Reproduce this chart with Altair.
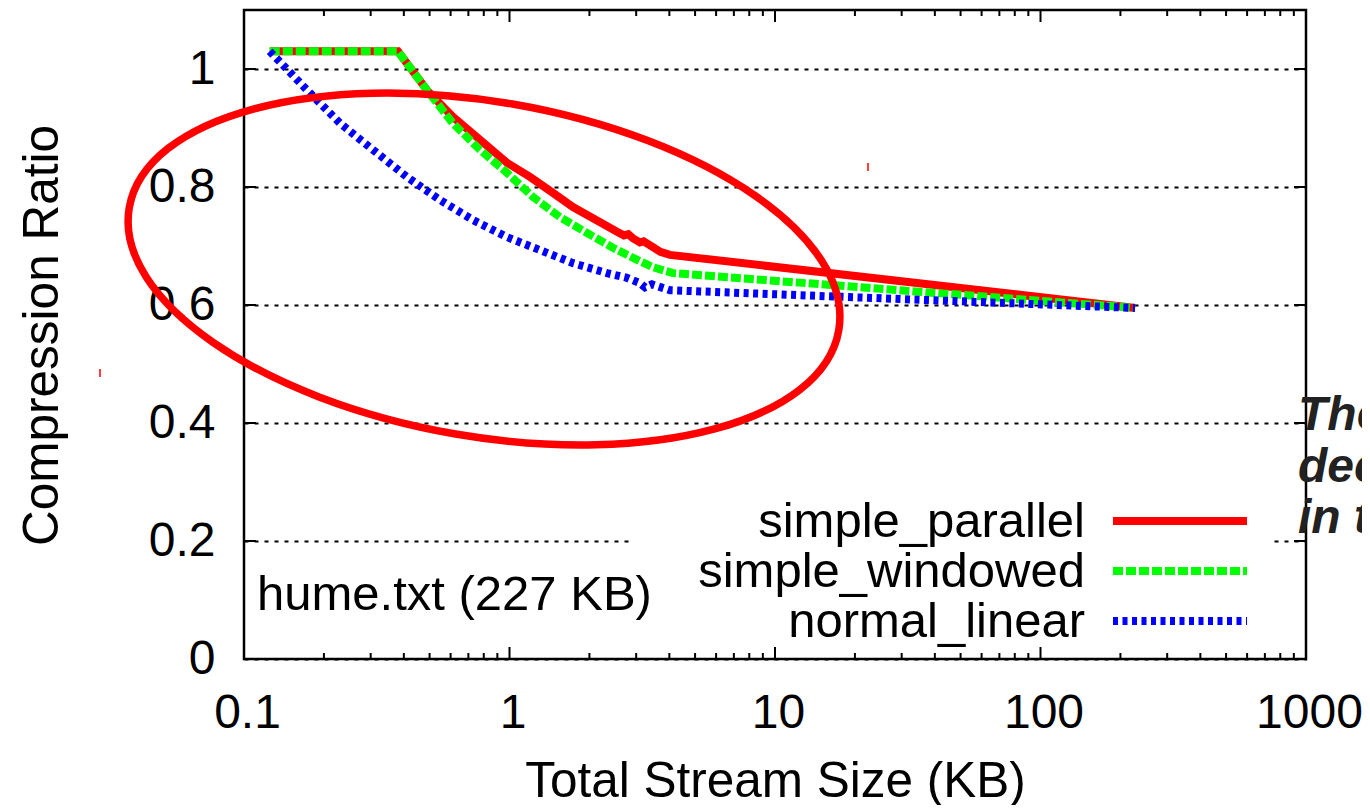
import altair as alt
import pandas as pd

# ---------------- data ----------------
SP_X = [0.125, 0.38, 0.489, 0.612, 0.774, 0.979, 1.194, 1.458, 1.734, 2.063, 2.541,
        2.70, 2.80, 2.918, 3.10, 3.20, 3.47, 3.70, 4.02, 227]
SP_Y = [1.03, 1.03, 0.964, 0.919, 0.880, 0.841, 0.817, 0.790, 0.766, 0.747, 0.724,
        0.718, 0.720, 0.713, 0.706, 0.708, 0.698, 0.690, 0.685, 0.595]

SW_X = [0.125, 0.38, 0.489, 0.612, 0.774, 0.979, 1.226, 1.549, 1.959, 2.453, 2.918,
        3.47, 4.13, 227]
SW_Y = [1.03, 1.03, 0.964, 0.908, 0.863, 0.824, 0.783, 0.749, 0.722, 0.697, 0.680,
        0.664, 0.654, 0.595]

NL_X = [0.125, 0.173, 0.230, 0.306, 0.411, 0.547, 0.729, 0.979, 1.303, 1.734, 2.33,
        2.77, 3.10, 3.24, 3.44, 4.02, 227]
NL_Y = [1.03, 0.964, 0.908, 0.863, 0.817, 0.778, 0.744, 0.715, 0.693, 0.671, 0.654,
        0.646, 0.637, 0.630, 0.635, 0.625, 0.595]

SERIES = ["simple_parallel", "simple_windowed", "normal_linear"]
X_TICKS = [0.1, 1, 10, 100, 1000]
X_MINOR = [m * d for d in [0.1, 1, 10, 100] for m in range(2, 10)]
Y_TICKS = [0, 0.2, 0.4, 0.6, 0.8, 1.0]
FILE_LABEL = "hume.txt (227 KB)"
SIDE_TEXT = ["The", "dec", "in t"]
X_TITLE = "Total Stream Size (KB)"
Y_TITLE = "Compression Ratio"

# ---------------- styling ----------------
W, H = 1062, 649
FONT = "Liberation Sans"
RED, GREEN, BLUE = "#ff0000", "#00ff00", "#0000ff"
LW = 8
GREEN_DASH = [10, 3]
BLUE_DASH = [5, 4.5]

xscale = alt.Scale(type="log", domain=[0.1, 1000], nice=False)
yscale = alt.Scale(domain=[0, 1.1], nice=False, zero=False)

xaxis = alt.Axis(values=X_TICKS, format="~g", grid=False, ticks=False, tickSize=0,
                 domain=False, labelFontSize=48, labelFont=FONT, labelColor="black",
                 labelPadding=68, labelBaseline="alphabetic", labelOffset=3,
                 labelFlush=False, labelOverlap=False,
                 title=X_TITLE, titleFont=FONT, titleFontSize=49.5,
                 titleFontWeight="normal", titleColor="black", titleX=531, titleY=137,
                 titleBaseline="alphabetic", titleAlign="center")
yaxis = alt.Axis(values=Y_TICKS, format="~g", grid=True, gridColor="black",
                 gridDash=[4, 6], gridWidth=2, ticks=False, tickSize=0, domain=False,
                 labelFontSize=48, labelFont=FONT, labelColor="black", labelPadding=29,
                 labelBaseline="middle", labelFlush=False, labelOverlap=False,
                 title=Y_TITLE, titleFont=FONT, titleFontSize=49.5,
                 titleFontWeight="normal", titleColor="black", titleAngle=270,
                 titleX=-187, titleY=325, titleBaseline="alphabetic",
                 titleAlign="center")

X = lambda: alt.X("x:Q", scale=xscale, axis=xaxis)
Y = lambda: alt.Y("y:Q", scale=yscale, axis=yaxis)


def series_line(xs, ys, color, dash=None):
    df = pd.DataFrame({"x": xs, "y": ys})
    kw = dict(color=color, strokeWidth=LW, strokeCap="butt")
    if dash:
        kw["strokeDash"] = dash
    return alt.Chart(df).mark_line(**kw).encode(x=X(), y=Y())


one = pd.DataFrame({"a": [0]})

layers = [
    series_line(SP_X, SP_Y, RED),
    series_line(SW_X, SW_Y, GREEN, GREEN_DASH),
    series_line(NL_X, NL_Y, BLUE, BLUE_DASH),
]

# white key box that hides part of the 0.2 grid line
layers.append(alt.Chart(one).mark_rect(color="white").encode(
    x=alt.value(388), x2=alt.value(1030), y=alt.value(480), y2=alt.value(638)))

# inward ticks (gnuplot style)
xt = pd.DataFrame({"x": X_TICKS})
xm = pd.DataFrame({"x": X_MINOR})
yt = pd.DataFrame({"y": Y_TICKS})
tick_kw = dict(color="black", strokeWidth=2)
layers += [
    alt.Chart(xt).mark_rule(**tick_kw).encode(x=X(), y=alt.value(H), y2=alt.value(H - 12)),
    alt.Chart(xt).mark_rule(**tick_kw).encode(x=X(), y=alt.value(0), y2=alt.value(12)),
    alt.Chart(xm).mark_rule(**tick_kw).encode(x=X(), y=alt.value(H), y2=alt.value(H - 6)),
    alt.Chart(xm).mark_rule(**tick_kw).encode(x=X(), y=alt.value(0), y2=alt.value(6)),
    alt.Chart(yt).mark_rule(**tick_kw).encode(y=Y(), x=alt.value(0), x2=alt.value(12)),
    alt.Chart(yt).mark_rule(**tick_kw).encode(y=Y(), x=alt.value(W - 12), x2=alt.value(W)),
]

# red hand-drawn ellipse annotation (custom symbol path, rotated)
r, k = 0.465, 0.5523
f = lambda v: f"{v:.4f}"
ell_path = (f"M1,0C1,{f(k*r)} {f(k)},{f(r)} 0,{f(r)}"
            f"C{f(-k)},{f(r)} -1,{f(k*r)} -1,0"
            f"C-1,{f(-k*r)} {f(-k)},{f(-r)} 0,{f(-r)}"
            f"C{f(k)},{f(-r)} 1,{f(-k*r)} 1,0Z")
layers.append(alt.Chart(one).mark_point(
    shape=ell_path, size=720.0 ** 2, filled=False, color=RED, strokeWidth=7.5,
    opacity=1, angle=9.8).encode(x=alt.value(240), y=alt.value(259)))

# key (legend)
key_styles = [(RED, None), (GREEN, GREEN_DASH), (BLUE, BLUE_DASH)]
for i, (name, (col, dash)) in enumerate(zip(SERIES, key_styles)):
    layers.append(alt.Chart(one).mark_text(
        align="right", baseline="alphabetic", fontSize=49, font=FONT, color="black"
    ).encode(x=alt.value(841), y=alt.value(527 + 50 * i), text=alt.value(name)))
    kw = dict(color=col, strokeWidth=LW, strokeCap="butt")
    if dash:
        kw["strokeDash"] = dash
    layers.append(alt.Chart(one).mark_rule(**kw).encode(
        x=alt.value(869), x2=alt.value(1003), y=alt.value(511 + 50 * i)))

layers.append(alt.Chart(one).mark_text(
    align="left", baseline="alphabetic", fontSize=49, font=FONT, color="black"
).encode(x=alt.value(13), y=alt.value(600), text=alt.value(FILE_LABEL)))

# cut-off bold italic side text (clipped at the page edge, as in the original)
for i, t in enumerate(SIDE_TEXT):
    layers.append(alt.Chart(one).mark_text(
        align="left", baseline="alphabetic", fontSize=48, font=FONT,
        fontStyle="italic", fontWeight="bold", color="#222222"
    ).encode(x=alt.value(1054), y=alt.value(420 + 51.5 * i), text=alt.value(t)))

# small red specks
layers.append(alt.Chart(one).mark_rule(color=RED, strokeWidth=1.5).encode(
    x=alt.value(-144), y=alt.value(359), y2=alt.value(367)))
layers.append(alt.Chart(one).mark_rule(color=RED, strokeWidth=1.5).encode(
    x=alt.value(624), y=alt.value(153), y2=alt.value(161)))

chart = alt.layer(*layers).properties(
    width=W, height=H,
    autosize=alt.AutoSizeParams(type="none"),
    padding={"left": 236, "top": 2, "right": 56, "bottom": 146},
    background="white",
).configure_view(stroke="black", strokeWidth=2.5)

chart.save("out.html", embed_options={"renderer": "svg", "actions": False})
